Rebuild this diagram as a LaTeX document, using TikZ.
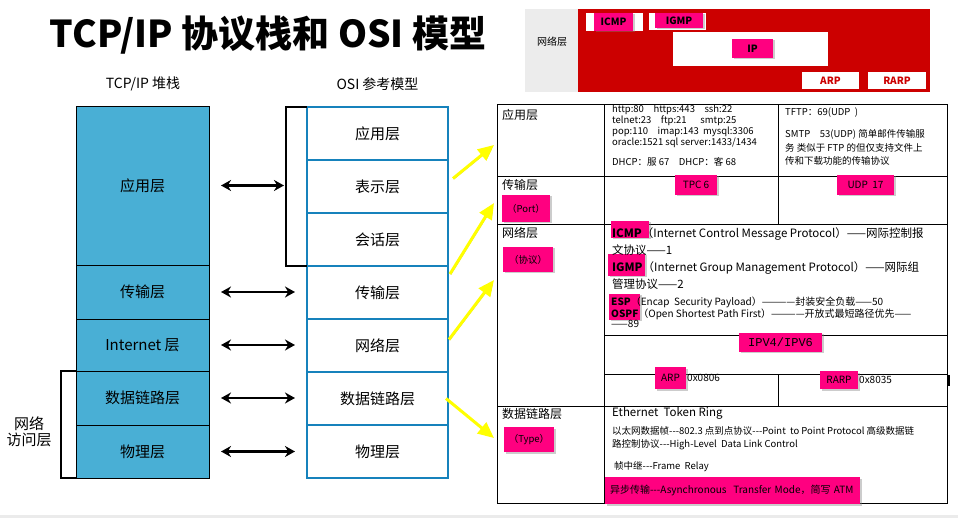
\documentclass[tikz,border=0pt]{standalone}
\usepackage{fontspec}
\setmainfont{Noto Sans CJK SC}
\newfontfamily\monofont{Liberation Mono}
\usepackage{xcolor}
\usetikzlibrary{positioning, arrows.meta, shadows}

\definecolor{tcpblue}{RGB}{73,175,213}
\definecolor{osiblue}{RGB}{22,130,188}
\definecolor{tagpink}{RGB}{255,0,128}
\definecolor{panelred}{RGB}{204,0,0}
\definecolor{panelgray}{RGB}{236,236,236}
\definecolor{hiyellow}{RGB}{255,255,0}

\newcommand{\tri}{-{}-{}-}

\tikzset{
  tcplayer/.style={draw, fill=tcpblue, minimum width=133pt, inner sep=0pt, outer sep=0pt, font=\fontsize{15}{17}\selectfont},
  osilayer/.style={draw=osiblue, line width=2pt, fill=white, minimum width=141pt, minimum height=53pt, inner sep=0pt, outer sep=0pt, font=\fontsize{15}{17}\selectfont},
  brace/.style={line width=1.8pt},
  maparrow/.style={{Stealth[length=10pt,width=11pt]}-{Stealth[length=10pt,width=11pt]}, line width=2.2pt},
  hiarrow/.style={-{Triangle[length=16pt,width=14pt]}, line width=3pt, draw=hiyellow,
    preaction={draw=black!40, transform canvas={xshift=0.8pt, yshift=-0.8pt}}},
  tag/.style={fill=tagpink, inner sep=0pt, outer sep=0pt, font=\fontsize{9.5}{10}\selectfont,
    drop shadow={shadow xshift=1.5pt, shadow yshift=-1.5pt, opacity=.4}},
  paneltag/.style={tag, font=\fontsize{10}{11}\selectfont\bfseries},
  cell/.style={anchor=west, inner sep=0pt, align=left, font=\fontsize{9.5}{10}\selectfont},
  rowhead/.style={anchor=west, inner sep=0pt, font=\fontsize{12}{13}\selectfont},
  grid/.style={line width=1pt},
}

\begin{document}
\begin{tikzpicture}[x=1pt, y=-1pt, node distance=0pt]
  \useasboundingbox (0,0) rectangle (958,518);
  \fill[black!8] (0,515) rectangle (958,518);

  % title
  \node[font=\fontsize{37}{42}\selectfont\bfseries] (title) at (268,35) {TCP/IP 协议栈和 OSI 模型};

  % TCP/IP stack
  \node[font=\fontsize{14}{16}\selectfont] (th) at (143,84) {TCP/IP 堆栈};
  \node[tcplayer, minimum height=159pt] (t1) at (142.5,185.5) {应用层};
  \node[tcplayer, minimum height=54pt] (t2) [below=of t1] {传输层};
  \node[tcplayer, minimum height=52pt] (t3) [below=of t2] {Internet 层};
  \node[tcplayer, minimum height=54pt] (t4) [below=of t3] {数据链路层};
  \node[tcplayer, minimum height=53pt] (t5) [below=of t4] {物理层};
  \draw[brace] (t4.north west) -- ++(-15,0) |- (t5.south west);
  \node[align=center, font=\fontsize{15}{16}\selectfont] (nal) at (29,432) {网络\\访问层};

  % OSI model
  \node[font=\fontsize{14}{16}\selectfont] (oh) at (377.5,84) {OSI 参考模型};
  \node[osilayer] (o1) at (377.5,133.5) {应用层};
  \node[osilayer] (o2) [below=of o1] {表示层};
  \node[osilayer] (o3) [below=of o2] {会话层};
  \node[osilayer] (o4) [below=of o3] {传输层};
  \node[osilayer] (o5) [below=of o4] {网络层};
  \node[osilayer] (o6) [below=of o5] {数据链路层};
  \node[osilayer] (o7) [below=of o6] {物理层};
  \draw[brace] (o1.north west) -- ++(-21,0) coordinate (b1) |- (o3.south west);

  % mapping arrows
  \draw[maparrow] ([xshift=12pt]t1.east) -- ([xshift=-2pt]t1.east -| b1);
  \draw[maparrow] ([xshift=12pt]t2.east) -- ([xshift=-12pt]t2.east -| o4.west);
  \draw[maparrow] ([xshift=12pt]t3.east) -- ([xshift=-12pt]t3.east -| o5.west);
  \draw[maparrow] ([xshift=12pt]t4.east) -- ([xshift=-12pt]t4.east -| o6.west);
  \draw[maparrow] ([xshift=12pt]t5.east) -- ([xshift=-12pt]t5.east -| o7.west);

  % protocol table
  \draw[grid] (497,105) rectangle (947,503);
  \draw[grid] (604,105) -- (604,503);
  \draw[grid] (778,105) -- (778,225);
  \draw[grid] (778,374) -- (778,406);
  \draw[grid] (497,177) -- (947,177);
  \draw[grid] (497,225) -- (947,225);
  \draw[grid] (604,336) -- (947,336);
  \draw[grid] (604,374) -- (947,374);
  \draw[grid] (497,406) -- (947,406);
  \draw[line width=2pt] (949,375) -- (949,386);

  \coordinate (in1) at (494,145);
  \coordinate (in2) at (494,203);
  \coordinate (in3) at (494,280);
  \coordinate (in4) at (494,438);
  \draw[hiarrow] ([xshift=5pt,yshift=8pt]o2.east) -- (in1);
  \draw[hiarrow] ([xshift=2pt,yshift=-8pt]o4.north east) -- (in2);
  \draw[hiarrow] ([xshift=1pt,yshift=6pt]o5.east) -- (in3);
  \draw[hiarrow] ([xshift=-2pt]o6.east) -- (in4);

  \node[rowhead] (h1) at (502,115) {应用层};
  \node[rowhead] (h2) at (502,185) {传输层};
  \node[rowhead] (h3) at (502,233) {网络层};
  \node[rowhead] (h4) at (502,414) {数据链路层};

  \node[tag, minimum width=48pt, minimum height=27pt] (port) at (526,208.5) {（Port）};
  \node[tag, minimum width=50pt, minimum height=25pt] (proto) at (528,259.5) {（协议）};
  \node[tag, minimum width=50pt, minimum height=25pt] (type) at (529,439.5) {（Type）};

  % application row
  \node[cell, font=\fontsize{9.5}{9.5}\selectfont] (ports) at (612,136) {http:80\quad https:443\quad ssh:22\\telnet:23\quad ftp:21\quad\ \ smtp:25\\pop:110\quad imap:143\ \ mysql:3306\\oracle:1521 sql server:1433/1434\\[9.5pt]DHCP：服 67\quad DHCP：客 68};
  \node[cell] (tftp) at (785,113) {TFTP：69(UDP\ \ )};
  \node[cell, font=\fontsize{9.5}{13.5}\selectfont] (smtp) at (785,147.5) {SMTP\quad 53(UDP) 简单邮件传输服\\务 类似于 FTP 的但仅支持文件上\\传和下载功能的传输协议};

  % transport row
  \node[tag, minimum width=42pt, minimum height=20pt, font=\fontsize{10}{11}\selectfont] (tcp) at (696,185) {TPC 6};
  \node[tag, minimum width=57pt, minimum height=20pt, font=\fontsize{10}{11}\selectfont] (udp) at (865.5,185) {UDP\ \ 17};

  % network row
  \node[tag, minimum width=38pt, minimum height=17pt] (icmp) at (630,229.5) {};
  \node[tag, minimum width=37pt, minimum height=22pt] (igmp) at (626.5,265) {};
  \node[tag, minimum width=31pt, minimum height=26pt] (esp) at (624.5,307) {};
  \node[cell, font=\fontsize{11.5}{17}\selectfont] (nproto) at (612,258.5) {\textbf{ICMP}（Internet Control Message Protocol）——网际控制报\\文协议——1\\\textbf{IGMP}（Internet Group Management Protocol）——网际组\\管理协议——2};
  \node[cell, font=\fontsize{10}{10.5}\selectfont] (nproto2) at (611,312.5) {\textbf{ESP}（Encap\ \ Security Payload）————封装安全负载——50\\\textbf{OSPF}（Open Shortest Path First）————开放式最短路径优先——\\——89};
  \node[tag, minimum width=83pt, minimum height=19pt, font=\fontsize{12}{13}\monofont] (ipv) at (780.5,342.5) {IPV4/IPV6};
  \node[tag, minimum width=31pt, minimum height=22pt, font=\fontsize{10}{11}\selectfont] (arp) at (670.5,378) {ARP};
  \node[cell, font=\fontsize{10}{11}\selectfont] (arpv) [right=1pt of arp] {0x0806};
  \node[tag, minimum width=38pt, minimum height=18pt, font=\fontsize{10}{11}\selectfont] (rarp) at (839,380) {RARP};
  \node[cell, font=\fontsize{10}{11}\selectfont] (rarpv) [right=1pt of rarp] {0x8035};

  % data link row
  \node[cell, font=\fontsize{11.5}{12}\selectfont] (eth) at (612,413) {Ethernet\ \ Token Ring};
  \node[cell, font=\fontsize{9.5}{13}\selectfont] (ppp) at (612,438.5) {以太网数据帧\tri 802.3 点到点协议\tri Point\ \ to Point Protocol 高级数据链\\路控制协议\tri High-Level\ \ Data Link Control};
  \node[cell] (fr) at (614,467) {帧中继\tri Frame\ \ Relay};
  \node[tag, minimum height=27pt, text width=245pt, inner xsep=5pt, align=left, font=\fontsize{10}{11}\selectfont] (atm) at (732.5,490.5) {异步传输\tri Asynchronous\ \ Transfer Mode，简写 ATM};

  % IP layer panel
  \fill[panelgray] (525,9) rectangle (578,92);
  \node[font=\fontsize{10}{11}\selectfont] (plab) at (552,42) {网络层};
  \fill[panelred] (578,9) rectangle (930,92);
  \fill[white] (586,13) rectangle (643,31);
  \fill[white] (649,13) rectangle (706,30);
  \fill[white] (673,32) rectangle (828,66);
  \node[paneltag, minimum width=39pt, minimum height=18pt] (picmp) at (613.5,22) {ICMP};
  \node[paneltag, minimum width=48pt, minimum height=15pt] (pigmp) at (679,20.5) {IGMP};
  \node[paneltag, minimum width=41pt, minimum height=19pt] (pip) at (752.5,48.5) {IP};
  \node[fill=white, minimum width=57pt, minimum height=17pt, inner sep=0pt, text=panelred, font=\fontsize{10}{11}\selectfont\bfseries] (parp) at (830.5,80.5) {ARP};
  \node[fill=white, minimum width=58pt, minimum height=17pt, inner sep=0pt, text=panelred, font=\fontsize{10}{11}\selectfont\bfseries] (prarp) at (897,80.5) {RARP};
\end{tikzpicture}
\end{document}
